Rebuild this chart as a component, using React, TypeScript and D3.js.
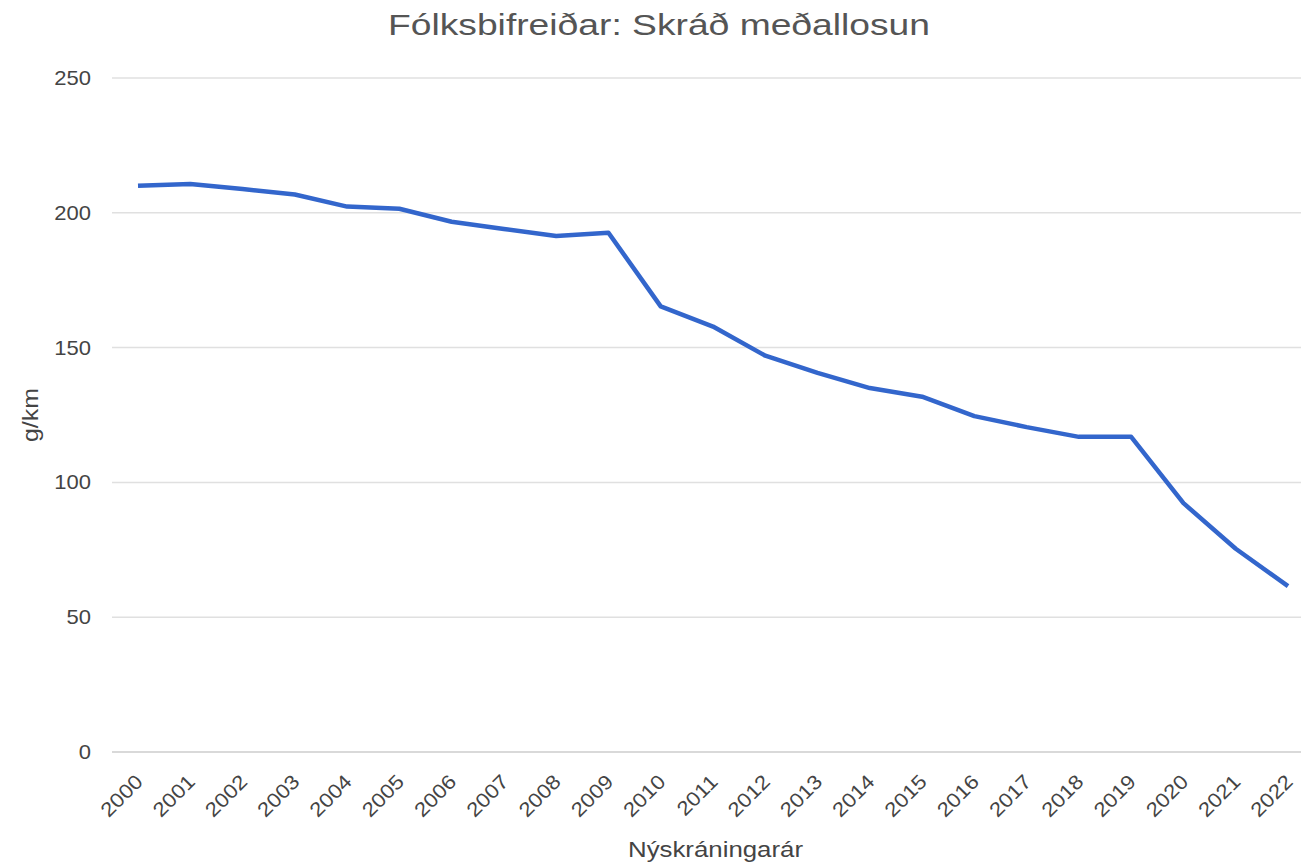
import React, { useEffect, useRef } from 'react';
import * as d3 from 'd3';

const years = ['2000','2001','2002','2003','2004','2005','2006','2007','2008','2009','2010','2011','2012','2013','2014','2015','2016','2017','2018','2019','2020','2021','2022'];
const emissions = [210, 210.7, 208.8, 206.8, 202.3, 201.5, 196.7, 194, 191.4, 192.6, 165.3, 157.8, 147, 140.6, 135, 131.8, 124.6, 120.5, 116.9, 116.9, 92.3, 75.4, 61.5];
const yTicks = [0, 50, 100, 150, 200, 250];

const title = 'Fólksbifreiðar: Skráð meðallosun';
const yTitle = 'g/km';
const xTitle = 'Nýskráningarár';

export default function App() {
  const ref = useRef<SVGSVGElement>(null);

  useEffect(() => {
    const W = 1301, H = 865;
    const svg = d3.select(ref.current).attr('width', W).attr('height', H);
    svg.selectAll('*').remove();
    const font = 'Liberation Sans, Arial, sans-serif';

    const x = d3.scalePoint().domain(years).range([138, 1288]);
    const y = d3.scaleLinear().domain([0, 250]).range([752, 78]);

    // grid lines
    svg.append('g').selectAll('line').data(yTicks).join('line')
      .attr('x1', 112).attr('x2', W)
      .attr('y1', d => y(d)).attr('y2', d => y(d))
      .attr('stroke', d => d === 0 ? '#cccccc' : '#e0e0e0')
      .attr('stroke-width', 1.5);

    svg.append('g').selectAll('text').data(yTicks).join('text')
      .attr('transform', d => `translate(91, ${y(d) + 7}) scale(1.1, 1)`)
      .attr('text-anchor', 'end')
      .style('font-family', font).style('font-size', '20px').style('fill', '#444')
      .text(d => d);

    svg.append('g').selectAll('text').data(years).join('text')
      .attr('transform', d => `translate(${(x(d) as number) + 6}, 783) rotate(-45) scale(1.12, 1)`)
      .attr('text-anchor', 'end')
      .style('font-family', font).style('font-size', '20px').style('fill', '#444')
      .text(d => d);

    const line = d3.line<number>()
      .x((_, i) => x(years[i]) as number)
      .y(d => y(d));

    svg.append('path').datum(emissions)
      .attr('d', line)
      .attr('fill', 'none')
      .attr('stroke', '#3366cc')
      .attr('stroke-width', 4.5)
      .attr('stroke-linejoin', 'round');

    svg.append('text')
      .attr('x', 388).attr('y', 35)
      .attr('textLength', 542).attr('lengthAdjust', 'spacingAndGlyphs')
      .style('font-family', font).style('font-size', '30px').style('fill', '#555')
      .text(title);

    svg.append('text')
      .attr('transform', 'translate(38, 442) rotate(-90)')
      .attr('textLength', 54).attr('lengthAdjust', 'spacingAndGlyphs')
      .style('font-family', font).style('font-size', '22px').style('fill', '#444')
      .text(yTitle);

    svg.append('text')
      .attr('x', 628).attr('y', 857)
      .attr('textLength', 175).attr('lengthAdjust', 'spacingAndGlyphs')
      .style('font-family', font).style('font-size', '22px').style('fill', '#444')
      .text(xTitle);
  }, []);

  return (
    <svg ref={ref} style={{ position: 'absolute', left: 0, top: 0, background: '#fff' }}></svg>
  );
}
